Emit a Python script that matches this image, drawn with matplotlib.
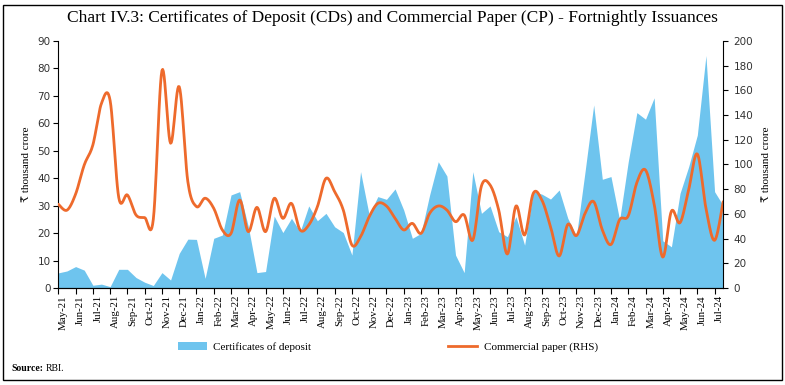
import matplotlib
matplotlib.use('Agg')
import matplotlib.pyplot as plt
from matplotlib.patches import Rectangle, Patch
from matplotlib.lines import Line2D
import numpy as np

# fortnightly issuances, May-21 to Jul-24
cd_values = [5.5, 6.2, 7.8, 6.5, 1.0, 1.4, 0.5, 6.8, 6.8, 3.8,
             2.1, 0.9, 5.6, 2.9, 12.6, 17.8, 17.7, 3.5, 18.1, 19.3,
             33.9, 35.1, 22.4, 5.6, 6.0, 26.2, 20.2, 25.4, 20.5, 29.9,
             24.5, 27.2, 22.3, 20.2, 12.0, 42.4, 26.6, 33.3, 32.3, 36.1,
             28.4, 18.1, 19.9, 33.9, 46.0, 40.8, 12.0, 5.6, 42.4, 27.2,
             29.9, 20.5, 18.7, 26.0, 15.6, 35.1, 34.2, 32.4, 35.7, 25.4,
             19.0, 42.4, 66.7, 39.6, 40.6, 24.8, 46.0, 63.9, 61.5, 69.3,
             17.2, 15.0, 34.5, 44.2, 55.7, 84.7, 35.1, 30.0]
cp_values = [67.8, 63.0, 76.0, 99.6, 115.8, 149.6, 151.7, 73.2, 75.3, 59.1,
             57.0, 55.6, 176.0, 117.2, 163.0, 86.1, 65.9, 72.7, 64.5, 46.9,
             44.2, 71.2, 45.6, 65.3, 45.6, 72.6, 56.4, 68.5, 47.0, 51.0,
             65.8, 88.8, 78.0, 63.1, 34.8, 41.5, 57.7, 68.5, 66.4, 56.4,
             47.0, 52.3, 44.2, 60.4, 66.4, 63.1, 53.7, 59.1, 38.8, 82.6,
             83.4, 63.1, 27.5, 66.4, 42.9, 76.6, 71.2, 49.7, 25.9, 51.5,
             42.4, 60.4, 69.9, 47.0, 35.2, 55.3, 58.4, 85.4, 95.5, 68.0,
             25.0, 62.2, 52.9, 79.6, 108.5, 64.5, 38.6, 69.9]
month_labels = ['May-21', 'Jun-21', 'Jul-21', 'Aug-21', 'Sep-21', 'Oct-21', 'Nov-21',
                'Dec-21', 'Jan-22', 'Feb-22', 'Mar-22', 'Apr-22', 'May-22', 'Jun-22',
                'Jul-22', 'Aug-22', 'Sep-22', 'Oct-22', 'Nov-22', 'Dec-22', 'Jan-23',
                'Feb-23', 'Mar-23', 'Apr-23', 'May-23', 'Jun-23', 'Jul-23', 'Aug-23',
                'Sep-23', 'Oct-23', 'Nov-23', 'Dec-23', 'Jan-24', 'Feb-24', 'Mar-24',
                'Apr-24', 'May-24', 'Jun-24', 'Jul-24']

blue = '#6EC4EE'
orange = '#EE6A2C'
serif = ['Liberation Serif', 'DejaVu Serif', 'DejaVu Sans']


def smooth(x, y, n=12):
    # bezier smoothing similar to spreadsheet "smoothed line"
    x = np.asarray(x, float)
    y = np.asarray(y, float)
    px = np.concatenate([[x[0]], x, [x[-1]]])
    py = np.concatenate([[y[0]], y, [y[-1]]])
    xs, ys = [], []
    t = np.linspace(0, 1, n, endpoint=False)
    for i in range(len(x) - 1):
        p0 = np.array([px[i + 1], py[i + 1]])
        p3 = np.array([px[i + 2], py[i + 2]])
        c1 = p0 + (np.array([px[i + 2], py[i + 2]]) - np.array([px[i], py[i]])) / 6
        c2 = p3 - (np.array([px[i + 3], py[i + 3]]) - np.array([px[i + 1], py[i + 1]])) / 6
        b = ((1 - t) ** 3)[:, None] * p0 + (3 * (1 - t) ** 2 * t)[:, None] * c1 \
            + (3 * (1 - t) * t ** 2)[:, None] * c2 + (t ** 3)[:, None] * p3
        xs.extend(b[:, 0])
        ys.extend(b[:, 1])
    xs.append(x[-1])
    ys.append(y[-1])
    return np.array(xs), np.array(ys)


x = np.arange(len(cd_values))

fig = plt.figure(figsize=(7.85, 3.85), dpi=100)
fig.patches.append(Rectangle((0.004, 0.013), 0.992, 0.974, transform=fig.transFigure,
                             fill=False, edgecolor='black', linewidth=1.0))

ax = fig.add_axes([0.0743, 0.252, 0.847, 0.6415])
ax.fill_between(x, 0, cd_values, color=blue, linewidth=0)
ax.set_xlim(0, len(x) - 1)
ax.set_ylim(0, 90)
ax.set_yticks(range(0, 91, 10))
ax.spines['top'].set_visible(False)
ax.spines['right'].set_visible(False)
ax.tick_params(axis='y', direction='out', length=3.5, width=0.8, labelsize=7.5,
               labelcolor='#333333', pad=2)
ax.set_xticks(np.arange(0, len(x) - 1, 2))
ax.set_xticklabels([])
ax.tick_params(axis='x', direction='out', length=4, width=0.8)
ax.set_xticks(np.arange(0, len(x), 2) + 0.6, minor=True)
ax.set_xticklabels(month_labels, minor=True, rotation=90, fontsize=7.8, family=serif)
ax.tick_params(axis='x', which='minor', length=0, pad=5)
ax.set_ylabel('₹ thousand crore', family=serif, fontsize=8, labelpad=5)

ax2 = ax.twinx()
sx, sy = smooth(x, cp_values)
ax2.plot(sx, sy, color=orange, linewidth=2.0, solid_capstyle='round')
ax2.set_ylim(0, 200)
ax2.set_yticks(range(0, 201, 20))
ax2.spines['top'].set_visible(False)
ax2.spines['left'].set_visible(False)
ax2.tick_params(axis='y', direction='out', length=3.5, width=0.8, labelsize=7.5,
                labelcolor='#333333', pad=4)
ax2.set_ylabel('₹ thousand crore', family=serif, fontsize=8, labelpad=6, rotation=90)

fig.text(0.5, 0.953, 'Chart IV.3: Certificates of Deposit (CDs) and Commercial Paper (CP) - Fortnightly Issuances',
         ha='center', va='center', fontsize=12.5, family=serif)

handles = [Patch(facecolor=blue, edgecolor='none'),
           Line2D([0], [0], color=orange, linewidth=2.0)]
fig.legend(handles, ['Certificates of deposit', 'Commercial paper (RHS)'],
           loc='center', bbox_to_anchor=(0.494, 0.098), ncol=2, frameon=False,
           prop={'family': serif, 'size': 8}, handlelength=2.6, handleheight=0.7,
           columnspacing=12.3, handletextpad=0.6)

fig.text(0.015, 0.042, 'Source:', fontsize=7, family=serif, fontweight='bold', va='center')
fig.text(0.058, 0.042, 'RBI.', fontsize=7, family=serif, va='center')

fig.savefig('out.png', dpi=100)
